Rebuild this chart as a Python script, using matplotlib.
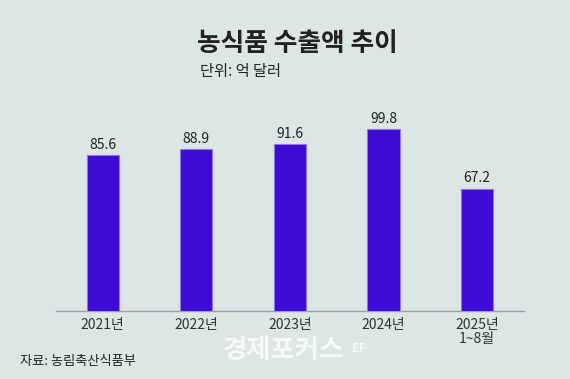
import matplotlib.pyplot as plt

# ── Data ─────────────────────────────────────────
years = ['2021년', '2022년', '2023년', '2024년', '2025년\n1~8월']
values = [85.6, 88.9, 91.6, 99.8, 67.2]

BG = '#dce6e4'
BAR = '#3d0bd5'
EDGE = '#8f78e6'
TEXT = '#222222'

plt.rcParams['font.family'] = ['Noto Sans CJK KR', 'DejaVu Sans']

fig = plt.figure(figsize=(5.7, 3.79), dpi=100, facecolor=BG)
ax = fig.add_axes([0.098, 0.179, 0.821, 0.529])
ax.set_facecolor(BG)

x = range(len(years))
ax.bar(x, values, width=0.345, color=BAR, edgecolor=EDGE, linewidth=0.8, zorder=3)
for xi, v in zip(x, values):
    ax.text(xi, v + 1.8, f'{v:.1f}', ha='center', va='bottom', fontsize=10, color=TEXT)

ax.set_xlim(-0.5, 4.5)
ax.set_ylim(0, 110)
ax.set_yticks([])
ax.set_xticks(list(x))
ax.set_xticklabels(years, fontsize=10, color='#333333', linespacing=0.95)
ax.tick_params(axis='x', length=0, pad=5)
for s in ['top', 'right', 'left']:
    ax.spines[s].set_visible(False)
ax.spines['bottom'].set_color('#9aa0a4')
ax.spines['bottom'].set_linewidth(1.0)

fig.text(0.522, 0.885, '농식품 수출액 추이', ha='center', va='center',
         fontsize=18.5, fontweight='bold', color=TEXT)
fig.text(0.351, 0.812, '단위: 억 달러', ha='left', va='center',
         fontsize=11, color=TEXT)
fig.text(0.035, 0.045, '자료: 농림축산식품부', ha='left', va='center',
         fontsize=9.5, color=TEXT)
fig.text(0.497, 0.075, '경제포커스', ha='center', va='center',
         fontsize=19, fontweight='bold', color='white', alpha=0.8)
fig.text(0.63, 0.08, 'EF', ha='center', va='center',
         fontsize=9, fontweight='bold', color='white', alpha=0.8)

fig.savefig('out.png', dpi=100, facecolor=BG)
